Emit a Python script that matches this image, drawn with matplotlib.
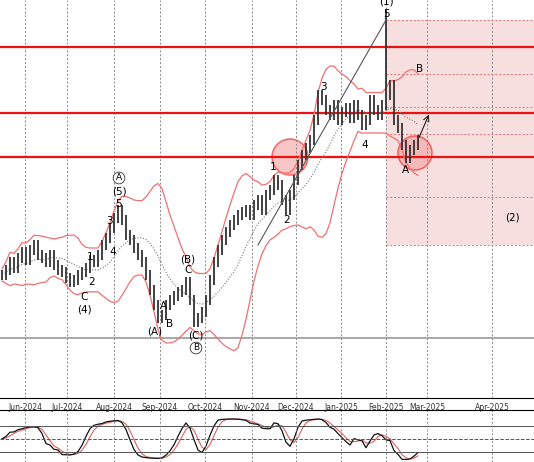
import numpy as np
import matplotlib.pyplot as plt
from matplotlib.patches import Circle, Rectangle

# price, in screen units (smaller = higher), one bar every 4 px
closes = [275, 270, 262, 268, 258, 252, 260, 250, 245, 255,
          258, 262, 255, 265, 270, 272, 278, 282, 280, 275,
          272, 268, 260, 262, 255, 245, 238, 228, 218, 210,
          220, 235, 240, 248, 255, 262, 275, 290, 305, 318,
          315, 305, 300, 296, 292, 290, 282, 300, 322, 318,
          312, 300, 280, 262, 250, 240, 232, 225, 220, 215,
          212, 210, 215, 205, 200, 210, 195, 190, 180, 185,
          200, 210, 195, 180, 165, 155, 148, 140, 120, 95,
          100, 110, 115, 105, 120, 112, 108, 118, 105, 115,
          125, 120, 100, 110, 115, 105, 95, 85, 120, 128,
          145, 158, 150, 145, 140]
months = ["Jun-2024", "Jul-2024", "Aug-2024", "Sep-2024", "Oct-2024", "Nov-2024",
          "Dec-2024", "Jan-2025", "Feb-2025", "Mar-2025", "Apr-2025"]
month_x = [25, 67, 114, 160, 205, 252, 296, 341, 386, 427, 492]
levels = [47, 113, 157]
fib_levels = [20, 74, 107, 134, 197, 245]

W, H = 534, 462
fig = plt.figure(figsize=(W / 100, H / 100), dpi=100)
ax = fig.add_axes([0, 1 - 398 / H, 1, 398 / H])
ax2 = fig.add_axes([0, 0, 1, 52 / H])

c = np.array(closes, float)
x = 2 + 4 * np.arange(len(c))
o = np.r_[c[0], c[:-1]]
hi = np.minimum(o, c) - 5
lo = np.maximum(o, c) + 5
hi[x == 386] = 10

ax.set_xlim(0, W)
ax.set_ylim(398, 0)
for s in ["top", "left", "right"]:
    ax.spines[s].set_visible(False)
ax.set_xticks([]); ax.set_yticks([])
for mx in month_x:
    ax.axvline(mx, color="#888", ls=(0, (2, 2)), lw=0.7)

# target zone
ax.add_patch(Rectangle((386, 20), W - 386, 225, color="#f4c6c6", alpha=0.55, lw=0))
for lv in fib_levels:
    ax.plot([386, W], [lv, lv], color="#e07070", ls=(0, (2, 2)), lw=0.7)
for lv in levels:
    ax.axhline(lv, color="#ee1111", lw=1.6)
ax.axhline(338, color="#999", lw=1.2)

# bollinger bands
n = 12
mid = np.array([c[max(0, i - n + 1):i + 1].mean() for i in range(len(c))])
sd = np.array([c[max(0, i - n + 1):i + 1].std() for i in range(len(c))])
ax.plot(x, mid, color="#777", ls=(0, (1, 1.5)), lw=0.8)
ax.plot(x, mid - 2 * sd - 6, color="#f07070", lw=0.9)
ax.plot(x, mid + 2 * sd + 6, color="#f07070", lw=0.9)

ax.vlines(x, hi, lo, color="#333", lw=1.3)
ax.plot([258, 386], [245, 20], color="#555", lw=0.8)
ax.annotate("", xy=(430, 112), xytext=(418, 140),
            arrowprops=dict(arrowstyle="->", color="#222", lw=0.8))
for cx, cy, r in [(290, 157, 18), (415, 153, 17)]:
    ax.add_patch(Circle((cx, cy), r, fc="#f4a0a0", ec="#ee2222", alpha=0.6, lw=1.2))

labels = [(119, 204, "5"), (119, 191, "(5)"), (109, 221, "3"), (90, 257, "1"), (92, 282, "2"),
          (84, 297, "C"), (84, 310, "(4)"), (113, 252, "4"), (155, 332, "(A)"),
          (163, 306, "A"), (170, 324, "B"), (188, 259, "(B)"), (188, 270, "C"),
          (196, 336, "(C)"), (273, 167, "1"), (287, 220, "2"), (323, 87, "3"),
          (365, 145, "4"), (386, 14, "5"), (386, 1, "(1)"), (405, 170, "A"),
          (420, 69, "B"), (512, 217, "(2)")]
for lx, ly, t in labels:
    ax.text(lx, ly, t, ha="center", va="center", fontsize=7.5)
for lx, ly, t in [(119, 178, "A"), (196, 348, "B")]:
    ax.text(lx, ly, t, ha="center", va="center", fontsize=6.5,
            bbox=dict(boxstyle="circle,pad=0.15", fc="white", ec="#333", lw=0.6))

for mx, m in zip(month_x, months):
    fig.text(mx / W, 1 - 408 / H, m, ha="center", va="center", fontsize=5.5, color="#333")

# stochastic (screen units: lowest price = largest value)
m = 7
k = []
for i in range(len(c)):
    top = hi[max(0, i - m + 1):i + 1].min()
    bot = lo[max(0, i - m + 1):i + 1].max()
    k.append((bot - c[i]) / (bot - top) * 100)
k = np.clip(np.array(k), 3, 97)
k = np.convolve(np.r_[k[0], k[0], k], np.ones(3) / 3, mode="valid")
d = np.convolve(np.r_[k[0], k[0], k], np.ones(3) / 3, mode="valid")
ax2.set_xlim(0, W); ax2.set_ylim(-2, 115)
ax2.plot(x, d, color="#e06060", lw=0.8)
ax2.plot(x, k, color="#111", lw=0.9)
for lv, ls in [(80, "-"), (50, "--"), (20, "-")]:
    ax2.axhline(lv, color="#555", ls=ls, lw=0.7)
for mx in month_x:
    ax2.axvline(mx, color="#888", ls=(0, (2, 2)), lw=0.7)
ax2.set_xticks([]); ax2.set_yticks([])
for s in ["left", "right", "bottom"]:
    ax2.spines[s].set_visible(False)

fig.savefig("out.png", dpi=100)
